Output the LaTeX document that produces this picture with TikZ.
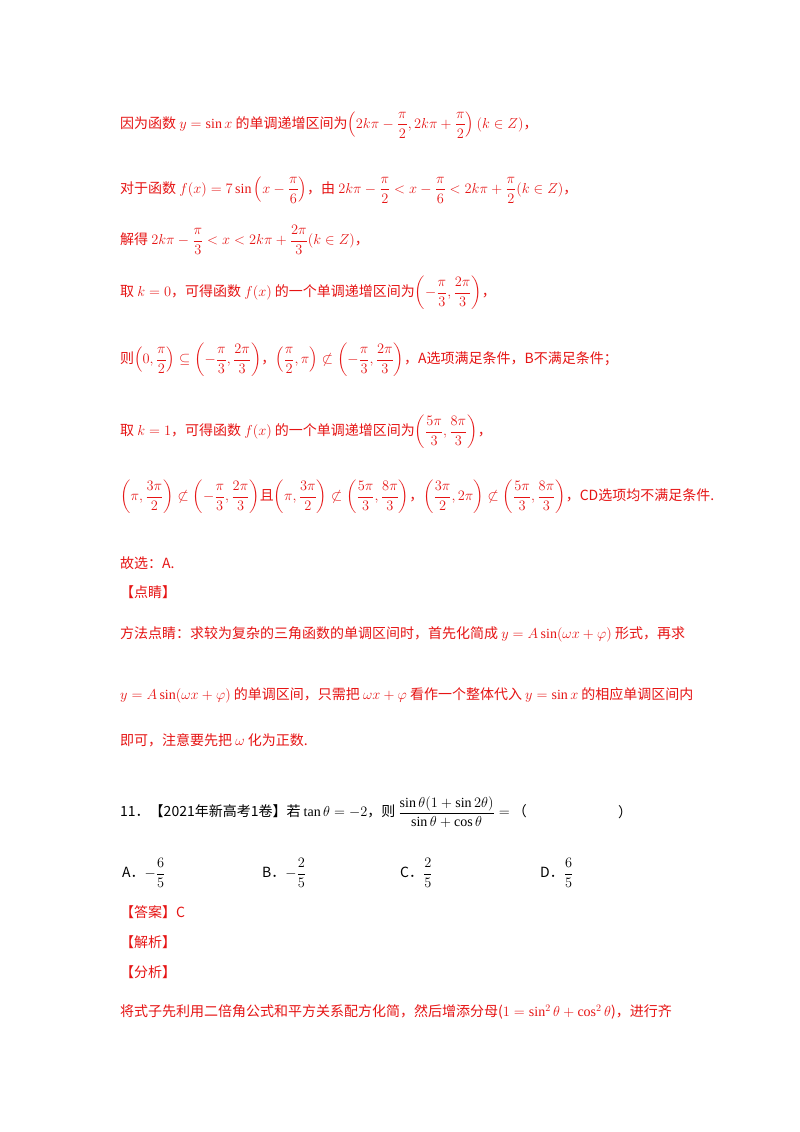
\documentclass[tikz,border=0pt]{standalone}
\usepackage{amsmath,amssymb}
\usepackage{fontspec}
\newfontfamily\cjk{Noto Sans CJK SC}
\setmainfont{Liberation Serif}
\definecolor{redt}{RGB}{230,20,20}
\begin{document}
\begin{tikzpicture}[x=1pt,y=-1pt,
  t/.style={anchor=west,inner sep=0pt,text=redt,font=\fontsize{14}{16}\selectfont\cjk},
  b/.style={t,text=black}]
\useasboundingbox (0,0) rectangle (800,1132);
\fill[white] (0,0) rectangle (800,1132);
\node[t] (l1) at (120,125) {因为函数 $y=\sin x$ 的单调递增区间为$\left(2k\pi-\dfrac{\pi}{2},2k\pi+\dfrac{\pi}{2}\right)(k\in Z)$，};
\node[t] (l2) at (120,190) {对于函数 $f(x)=7\sin\left(x-\dfrac{\pi}{6}\right)$，由 $2k\pi-\dfrac{\pi}{2}<x-\dfrac{\pi}{6}<2k\pi+\dfrac{\pi}{2}(k\in Z)$，};
\node[t] (l3) at (120,240) {解得 $2k\pi-\dfrac{\pi}{3}<x<2k\pi+\dfrac{2\pi}{3}(k\in Z)$，};
\node[t] (l4) at (120,293) {取 $k=0$，可得函数 $f(x)$ 的一个单调递增区间为$\left(-\dfrac{\pi}{3},\dfrac{2\pi}{3}\right)$，};
\node[t] (l5) at (120,360) {则$\left(0,\dfrac{\pi}{2}\right)\subseteq\left(-\dfrac{\pi}{3},\dfrac{2\pi}{3}\right)$，$\left(\dfrac{\pi}{2},\pi\right)\not\subset\left(-\dfrac{\pi}{3},\dfrac{2\pi}{3}\right)$，A选项满足条件，B不满足条件；};
\node[t] (l6) at (120,432) {取 $k=1$，可得函数 $f(x)$ 的一个单调递增区间为$\left(\dfrac{5\pi}{3},\dfrac{8\pi}{3}\right)$，};
\node[t] (l7) at (120,497) {$\left(\pi,\dfrac{3\pi}{2}\right)\not\subset\left(-\dfrac{\pi}{3},\dfrac{2\pi}{3}\right)$且$\left(\pi,\dfrac{3\pi}{2}\right)\not\subset\left(\dfrac{5\pi}{3},\dfrac{8\pi}{3}\right)$，$\left(\dfrac{3\pi}{2},2\pi\right)\not\subset\left(\dfrac{5\pi}{3},\dfrac{8\pi}{3}\right)$，CD选项均不满足条件.};
\node[t] (l8) at (120,563) {故选：A.};
\node[t] (l9) at (120,592) {【点睛】};
\node[t] (l10) at (120,634) {方法点睛：求较为复杂的三角函数的单调区间时，首先化简成 $y=A\sin(\omega x+\varphi)$ 形式，再求};
\node[t] (l11) at (120,695) {$y=A\sin(\omega x+\varphi)$ 的单调区间，只需把 $\omega x+\varphi$ 看作一个整体代入 $y=\sin x$ 的相应单调区间内};
\node[t] (l12) at (120,740) {即可，注意要先把 $\omega$ 化为正数.};
\node[b] (q) at (120,812) {11．【2021年新高考1卷】若 $\tan\theta=-2$，则 $\dfrac{\sin\theta(1+\sin2\theta)}{\sin\theta+\cos\theta}=$ （};
\node[b] (qr) at (618,812) {）};
\node[b] (oa) at (122,873) {A．$-\dfrac{6}{5}$};
\node[b] (ob) at (262,873) {B．$-\dfrac{2}{5}$};
\node[b] (oc) at (400,873) {C．$\dfrac{2}{5}$};
\node[b] (od) at (540,873) {D．$\dfrac{6}{5}$};
\node[t] (a1) at (120,912) {【答案】C};
\node[t] (a2) at (120,942) {【解析】};
\node[t] (a3) at (120,972) {【分析】};
\node[t] (a4) at (120,1012) {将式子先利用二倍角公式和平方关系配方化简，然后增添分母($1=\sin^2\theta+\cos^2\theta$)，进行齐};
\end{tikzpicture}
\end{document}
